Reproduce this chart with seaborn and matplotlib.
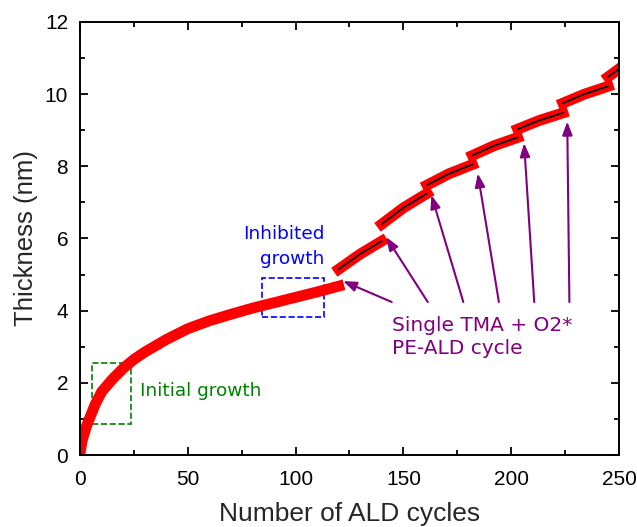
import pandas as pd
import matplotlib.pyplot as plt
import seaborn as sns
from matplotlib.patches import Rectangle
from matplotlib.ticker import MultipleLocator

# initial (continuous) growth
init_cycles = [0, 1, 2, 3, 5, 7, 10, 15, 20, 25, 30, 40, 50, 60, 70, 80, 90, 100, 110, 120]
init_thick = [0.05, 0.4, 0.6, 0.8, 1.1, 1.4, 1.75, 2.1, 2.4, 2.65, 2.85, 3.2, 3.5, 3.72,
              3.9, 4.07, 4.22, 4.37, 4.52, 4.68]

# segments after each single PE-ALD cycle
step_cycles = [[120, 130, 140], [140, 150, 161], [161, 171, 182], [182, 192, 203],
               [203, 213, 224], [224, 234, 245], [245, 250]]
step_thick = [[5.15, 5.57, 5.93], [6.40, 6.85, 7.25], [7.48, 7.79, 8.05], [8.30, 8.57, 8.80],
              [9.03, 9.27, 9.48], [9.75, 10.0, 10.22], [10.48, 10.70]]

# arrow heads (step positions) and tails (label)
arrow_heads_x = [122, 142, 163, 184.5, 206, 226]
arrow_heads_y = [4.82, 6.04, 7.2, 7.8, 8.64, 9.24]
arrow_tails_x = [144.6, 161.3, 177.8, 194.3, 210.7, 227]
arrow_tail_y = 4.24

sns.set_style("ticks")
plt.rcParams['font.family'] = ['Liberation Sans', 'DejaVu Sans']

fig = plt.figure(figsize=(6.37, 5.27), dpi=100)
ax = fig.add_axes([0.1256, 0.1366, 0.8461, 0.8217])

sns.lineplot(x=init_cycles, y=init_thick, sort=False, color='#ff0000', lw=7.8,
             solid_capstyle='projecting', ax=ax)
for cs, ts in zip(step_cycles, step_thick):
    sns.lineplot(x=cs, y=ts, sort=False, color='#ff0000', lw=7.8,
                 solid_capstyle='projecting', ax=ax)
    sns.lineplot(x=cs, y=ts, sort=False, color='black', lw=1.2, ax=ax)

ax.set_xlim(0, 250)
ax.set_ylim(0, 12)
ax.xaxis.set_major_locator(MultipleLocator(50))
ax.xaxis.set_minor_locator(MultipleLocator(25))
ax.yaxis.set_major_locator(MultipleLocator(2))
ax.yaxis.set_minor_locator(MultipleLocator(1))
ax.tick_params(which='both', direction='in', top=True, right=True, width=1.3,
               labelsize=15, colors='black')
ax.tick_params(which='major', length=6)
ax.tick_params(which='minor', length=3.5)
ax.tick_params(axis='x', which='major', pad=10.5)
ax.tick_params(axis='y', which='major', pad=8.5)
for s in ax.spines.values():
    s.set_linewidth(1.4)
    s.set_color('black')

ax.set_xlabel('Number of ALD cycles', fontsize=19, labelpad=10)
ax.set_ylabel('Thickness (nm)', fontsize=18.5, labelpad=5)

# boxes
ax.add_patch(Rectangle((5.7, 0.86), 17.8, 1.7, fill=False, ec='green', ls='--', lw=1.2))
ax.add_patch(Rectangle((84.3, 3.83), 28.9, 1.07, fill=False, ec='blue', ls='--', lw=1.2))

note_font = ['DejaVu Sans']
ax.text(27.8, 1.77, 'Initial growth', color='green', fontsize=13.3, family=note_font,
        ha='left', va='center')
ax.text(113.5, 5.78, 'Inhibited\ngrowth', color='blue', fontsize=13.3, family=note_font,
        ha='right', va='center', multialignment='right', linespacing=1.45)
ax.text(144.5, 3.28, 'Single TMA + O2*\nPE-ALD cycle', color='purple', fontsize=14.5,
        family=note_font, ha='left', va='center', linespacing=1.25)

for hx, hy, tx in zip(arrow_heads_x, arrow_heads_y, arrow_tails_x):
    ax.annotate('', xy=(hx, hy), xytext=(tx, arrow_tail_y),
                arrowprops=dict(arrowstyle='-|>,head_length=0.8,head_width=0.3',
                                color='purple', lw=1.5, shrinkA=0, shrinkB=0))

fig.savefig('out.png', dpi=100)
